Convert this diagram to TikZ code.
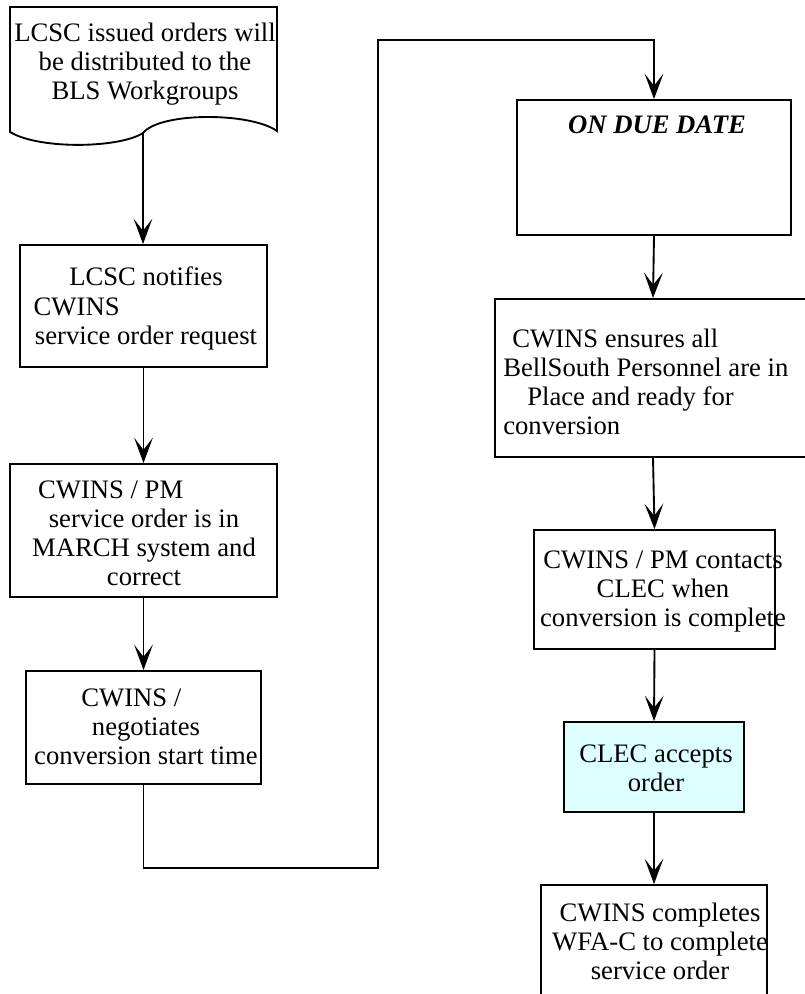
\documentclass[tikz,border=0pt]{standalone}
\usepackage{fontspec}
\setmainfont{Liberation Serif}
\usetikzlibrary{arrows.meta,fit}
\definecolor{paleaqua}{RGB}{221,255,255}

\begin{document}
\begin{tikzpicture}[x=0.75pt, y=-0.75pt, >={Stealth[length=19pt,width=14pt,inset=9pt]},
        stepbox/.style={draw, line width=1.4pt, inner sep=0pt},
        steptext/.style={inner sep=0pt, align=center, font=\fontsize{20}{21.8}\selectfont},
        flow/.style={->, line width=1.4pt}]
        \useasboundingbox (0,0) rectangle (804,994);

        % ==== LEFT COLUMN ====
        \draw[line width=1.4pt] (10,7) -- (10,132) .. controls (40,150) and (120,148) .. (143,133)
            .. controls (160,112) and (250,112) .. (277,131) -- (277,7) -- cycle;
        \coordinate (issued-out) at (143,133);
        \node[steptext] (issued) at (145,64) {LCSC issued orders will\\be distributed to the\\BLS Workgroups};

        \node[stepbox, fit={(20,245) (267,367)}] (notify) {};
        \node[steptext] (notify-txt) at (146,308.5) {LCSC notifies\\CWINS\hspace{5.2em}\mbox{}\\service order request};

        \node[stepbox, fit={(10,464) (277,597)}] (check) {};
        \node[steptext] (check-txt) at (144,533.5) {CWINS / PM\hspace{2.5em}\mbox{}\\service order is in\\MARCH system and\\correct};

        \node[stepbox, fit={(26,671) (261,784)}] (negotiate) {};
        \node[steptext] (negotiate-txt) at (146,727) {CWINS /\hspace{1.1em}\mbox{}\\negotiates\\conversion start time};

        % ==== RIGHT COLUMN ====
        \node[stepbox, fit={(517,100) (791,235)}] (ondue) {};
        \node[steptext] (ondue-txt) at (657,125) {\textbf{\textit{ON DUE DATE}}};

        \node[stepbox, fit={(495,299) (811,457)}] (ensure) {};
        \node[steptext, align=left, anchor=west] (ensure-txt) at (503,382)
            {\hspace*{0.34em}CWINS ensures all\\BellSouth Personnel are in\\\hspace*{0.9em}Place and ready for\\conversion};

        \node[stepbox, fit={(534,530) (775,649)}] (contact) {};
        \node[steptext] (contact-txt) at (663,591.5) {CWINS / PM contacts\\CLEC when\\conversion is complete};

        \node[stepbox, fill=paleaqua, fit={(564,722) (744,812)}] (accept) {};
        \node[steptext] (accept-txt) at (656,768) {CLEC accepts\\order};

        \node[stepbox, fit={(541,885) (767,1010)}] (complete) {};
        \node[steptext] (complete-txt) at (660,941) {CWINS completes\\WFA-C to complete\\service order};

        % ==== CONNECTORS ====
        \draw[flow] (issued-out) -- (issued-out |- notify.north);
        \draw[flow] (notify.south) -- (check.north);
        \draw[flow] (check.south) -- (negotiate.north);

        \coordinate (low) at (378,868);
        \coordinate (high) at (378,40);
        \draw[flow] (negotiate.south) |- (low) -- (high) -| (ondue.north);

        \draw[flow] (ondue.south) -- (ensure.north);
        \draw[flow] (ensure.south) -- (contact.north);
        \draw[flow] (contact.south) -- (accept.north);
        \draw[flow] (accept.south) -- (complete.north);

\end{tikzpicture}
\end{document}
